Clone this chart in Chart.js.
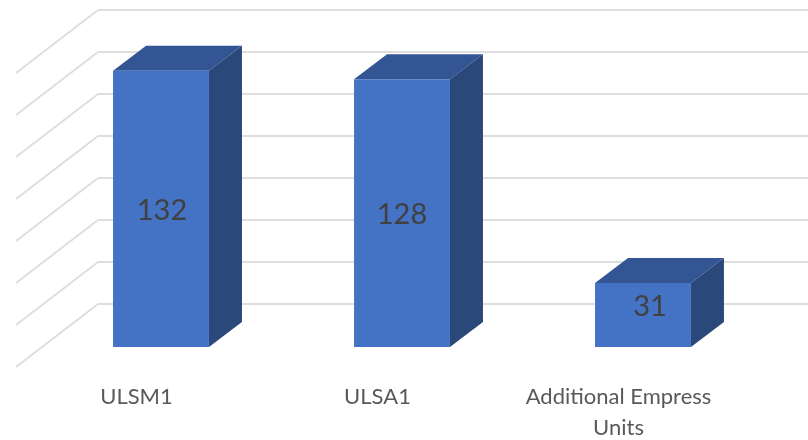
<!DOCTYPE html>
<html>
<head>
<meta charset="utf-8">
<style>
  html, body { margin: 0; padding: 0; background: #fff; overflow: hidden; }
  canvas { display: block; }
</style>
<script src="https://cdn.jsdelivr.net/npm/chart.js@4"></script>
</head>
<body>
<!-- canvas is wider than the window: the back wall runs past the right edge -->
<canvas id="barChart" width="821" height="440"></canvas>
<script>
// --- Data ---
const categories = ['ULSM1', 'ULSA1', ['Additional Empress', 'Units']];
const unitValues = [132, 128, 31];
const valueMax = 140;
const valueStep = 20;

// --- Fake 3D look ---
// the scale itself is the back wall, floor runs down-left from it
const floorDx = 82, floorDy = 63;     // back wall -> front edge of floor
const frontDx = 57.5, frontDy = 44;   // back wall -> front face of the bars
const depthDx = 33, depthDy = 25;     // front face -> back face of a bar
// Excel puts the value labels a bit off centre
const labelNudgeX = [1, 0, 7];
const labelNudgeY = [2, 2, -8];

const faceFront = '#4472C4', faceTop = '#335593', faceSide = '#2A4879';
const gridColor = '#DEDEDE';

function poly(ctx, pts, color) {
    ctx.fillStyle = color;
    ctx.beginPath();
    pts.forEach((p, i) => i ? ctx.lineTo(p[0], p[1]) : ctx.moveTo(p[0], p[1]));
    ctx.closePath();
    ctx.fill();
}

const box3d = {
    id: 'box3d',
    // side wall lines, one per value tick
    beforeDatasetsDraw(chart) {
        const { ctx, scales: { y }, chartArea } = chart;
        ctx.save();
        ctx.strokeStyle = gridColor;
        ctx.lineWidth = 2;
        y.ticks.forEach(t => {
            const py = y.getPixelForValue(t.value);
            ctx.beginPath();
            ctx.moveTo(chartArea.left, py);
            ctx.lineTo(chartArea.left - floorDx, py + floorDy);
            ctx.stroke();
        });
        ctx.restore();
    },
    // move the bars forward and add top + side face
    beforeDatasetDraw(chart, args) {
        const { ctx } = chart;
        ctx.save();
        ctx.translate(-frontDx, frontDy);
        args.meta.data.forEach(bar => {
            const l = bar.x - bar.width / 2, r = bar.x + bar.width / 2;
            const t = bar.y, b = bar.base;
            poly(ctx, [[l, t], [r, t], [r + depthDx, t - depthDy], [l + depthDx, t - depthDy]], faceTop);
            poly(ctx, [[r, t], [r + depthDx, t - depthDy], [r + depthDx, b - depthDy], [r, b]], faceSide);
        });
    },
    afterDatasetDraw(chart, args) {
        const { ctx } = chart;
        // value labels in the middle of the front face
        ctx.font = "29px Lato";
        ctx.fillStyle = '#404040';
        ctx.textAlign = 'center';
        ctx.textBaseline = 'middle';
        args.meta.data.forEach((bar, i) => {
            ctx.fillText(unitValues[i], bar.x + labelNudgeX[i], (bar.y + bar.base) / 2 + labelNudgeY[i]);
        });
        ctx.restore();
    }
};

new Chart(document.getElementById('barChart').getContext('2d'), {
    type: 'bar',
    data: {
        labels: categories,
        datasets: [{
            data: unitValues,
            backgroundColor: faceFront,
            borderWidth: 0,
            barPercentage: 0.398,
            categoryPercentage: 1,
            clip: false
        }]
    },
    options: {
        responsive: false,
        animation: false,
        layout: { padding: { left: 98, right: 0, top: 10, bottom: 0 } },
        plugins: {
            legend: { display: false },
            tooltip: { enabled: false }
        },
        scales: {
            x: {
                grid: { display: false },
                border: { display: false },
                // labels hang outside on purpose, no margin for them
                afterFit(scale) {
                    scale.height = 136;
                    scale.paddingLeft = 0;
                    scale.paddingRight = 0;
                },
                ticks: {
                    maxRotation: 0,
                    autoSkip: false,
                    padding: 69,
                    labelOffset: -floorDx,
                    color: '#595959',
                    font: { family: 'Lato', size: 22, lineHeight: 1.41 }
                }
            },
            y: {
                min: 0,
                max: valueMax,
                afterFit(scale) { scale.width = 0; },
                ticks: { display: false, stepSize: valueStep },
                border: { display: false },
                grid: { color: gridColor, lineWidth: 2, drawTicks: false }
            }
        }
    },
    plugins: [box3d]
});
</script>
</body>
</html>
